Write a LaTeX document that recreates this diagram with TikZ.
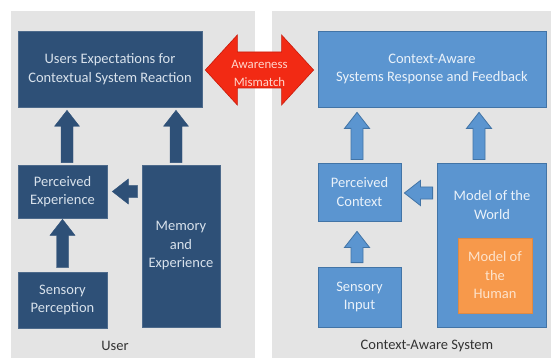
\documentclass[tikz,border=0pt]{standalone}
\usepackage{fontspec}
\setmainfont{Carlito}
\usetikzlibrary{calc}
\definecolor{panelbg}{HTML}{E4E4E4}
\definecolor{navy}{HTML}{2E5077}
\definecolor{navytext}{HTML}{D8E2EC}
\definecolor{lblue}{HTML}{5B95D0}
\definecolor{lblueedge}{HTML}{4274A6}
\definecolor{lbluetext}{HTML}{EAF2FA}
\definecolor{orng}{HTML}{F7994B}
\definecolor{orngtext}{HTML}{FDE3CC}
\definecolor{redarrow}{HTML}{F22A14}
\definecolor{rededge}{HTML}{C81A0A}
\definecolor{redtext}{HTML}{FFD6CC}
\definecolor{labeltext}{HTML}{333333}
% block arrow from #2 to #3
\newcommand\blockarrow[3][]{%
  \coordinate (bh) at ($(#3)!16pt!(#2)$);
  \draw[#1] ($(#2)!6pt!90:(#3)$) -- ($(bh)!6pt!90:(#3)$) -- ($(bh)!12.5pt!90:(#3)$) -- (#3)
    -- ($(bh)!12.5pt!-90:(#3)$) -- ($(bh)!6pt!-90:(#3)$) -- ($(#2)!6pt!-90:(#3)$) -- cycle;}
\newcommand\dblarrow[3][]{%
  \coordinate (dh1) at ($(#2)!32pt!(#3)$);
  \coordinate (dh2) at ($(#3)!32pt!(#2)$);
  \draw[#1] (#2) -- ($(dh1)!35pt!90:(#3)$) -- ($(dh1)!18pt!90:(#3)$) -- ($(dh2)!18pt!-90:(#2)$)
    -- ($(dh2)!35pt!-90:(#2)$) -- (#3) -- ($(dh2)!35pt!90:(#2)$) -- ($(dh2)!18pt!90:(#2)$)
    -- ($(dh1)!18pt!-90:(#3)$) -- ($(dh1)!35pt!-90:(#3)$) -- cycle;}
\begin{document}
\begin{tikzpicture}[x=1pt,y=-1pt,
  txt/.style={font=\fontsize{14.5}{18.5}\selectfont, align=center},
  userbox/.style={txt, fill=navy, draw=navy!85!white, line width=0.6pt, text=navytext, inner sep=0pt},
  sysbox/.style={txt, fill=lblue, draw=lblueedge, line width=0.8pt, text=lbluetext, inner sep=0pt},
  humanbox/.style={txt, fill=orng, draw=orng!90!black, line width=0.5pt, text=orngtext, inner sep=0pt},
  userarrow/.style={fill=navy, draw=navy, line width=0.4pt},
  sysarrow/.style={fill=lblue, draw=lblueedge, line width=0.8pt, line join=miter},
  panellabel/.style={font=\fontsize{14.5}{17}\selectfont, text=labeltext}]
\useasboundingbox (0,0) rectangle (551,358);
\fill[white] (0,0) rectangle (551,358);
% panels
\fill[panelbg] (11,11) rectangle (255,358);
\fill[panelbg] (272,11) rectangle (551,358);

% user side
\node[userbox, minimum width=184pt, minimum height=76pt] (uexp) at (110,69) {Users Expectations for\\Contextual System Reaction};
\node[userbox, minimum width=89pt, minimum height=53pt] (pe) at (62.5,191.5) {Perceived\\Experience};
\node[userbox, minimum width=78pt, minimum height=162pt] (mem) at (181,246) {Memory\\and\\Experience};
\node[userbox, minimum width=89pt, minimum height=56pt] (sp) at (62.5,300) {Sensory\\Perception};
\node[panellabel] (ulabel) at (115,346) {User};

% system side
\node[sysbox, minimum width=228pt, minimum height=76pt] (cars) at (432,69) {Context-Aware\\Systems Response and Feedback};
\node[sysbox, minimum width=83pt, minimum height=58pt] (pc) at (359.5,192) {Perceived\\Context};
\node[sysbox, minimum width=109pt, minimum height=164pt] (mw) at (491.5,245) {};
\node[txt, text=lbluetext] (mwt) at (492,205) {Model of the\\World};
\node[humanbox, minimum width=74pt, minimum height=75pt] (mh) at (495,275.5) {Model of\\the\\Human};
\node[sysbox, minimum width=83pt, minimum height=60pt] (si) at (359.5,297) {Sensory\\Input};
\node[panellabel] (slabel) at (427,346) {Context-Aware System};

% user arrows
\coordinate (a1s) at ($(pe.north)+(4.5,-2)$);
\coordinate (a1e) at ($(a1s |- uexp.south)+(0,3)$);
\coordinate (a2s) at ($(mem.north)+(-5,-2)$);
\coordinate (a2e) at ($(a2s |- uexp.south)+(0,3)$);
\coordinate (a3s) at ($(sp.north)+(0,-4)$);
\coordinate (a3e) at ($(a3s |- pe.south)+(0,1)$);
\coordinate (a4s) at ($(mem.west |- pe.center)+(-4,0)$);
\coordinate (a4e) at ($(pe.east |- a4s)+(5,0)$);
\blockarrow[userarrow]{a1s}{a1e}
\blockarrow[userarrow]{a2s}{a2e}
\blockarrow[userarrow]{a3s}{a3e}
\blockarrow[userarrow]{a4s}{a4e}

% system arrows
\coordinate (b1s) at ($(pc.north)+(-2.5,-3)$);
\coordinate (b1e) at ($(b1s |- cars.south)+(0,5)$);
\coordinate (b2s) at ($(mw.north)+(-12.5,-3)$);
\coordinate (b2e) at ($(b2s |- cars.south)+(0,5)$);
\coordinate (b3s) at ($(si.north)+(-2.5,-4)$);
\coordinate (b3e) at ($(b3s |- pc.south)+(0,10)$);
\coordinate (b4s) at ($(mw.west |- pc.center)+(-4,1)$);
\coordinate (b4e) at ($(pc.east |- b4s)+(3,0)$);
\blockarrow[sysarrow]{b1s}{b1e}
\blockarrow[sysarrow]{b2s}{b2e}
\blockarrow[sysarrow]{b3s}{b3e}
\blockarrow[sysarrow]{b4s}{b4e}

% awareness mismatch
\coordinate (rs) at ($(uexp.east)+(3,1)$);
\coordinate (re) at ($(cars.west)+(-4,1)$);
\dblarrow[fill=redarrow, draw=rededge, line width=0.6pt, line join=miter]{rs}{re}
\node[txt, text=redtext, font=\fontsize{12.8}{18}\selectfont] (am) at ($(rs)!0.5!(re)+(0,3)$) {Awareness\\Mismatch};
\end{tikzpicture}
\end{document}
